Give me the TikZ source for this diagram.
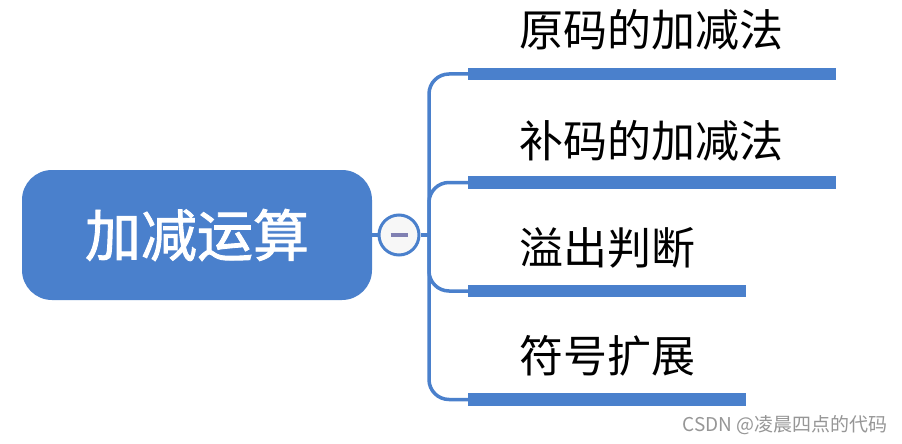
\documentclass[tikz,border=0pt]{standalone}
\usepackage{fontspec}
\newfontfamily\cjk{Noto Sans CJK SC}
\newfontfamily\cjkfb[FakeBold=1.6]{Noto Sans CJK SC}
\definecolor{mblue}{RGB}{74,128,204}
\definecolor{minusc}{RGB}{128,128,178}
\definecolor{wmark}{RGB}{150,150,150}
\tikzset{
  rootbox/.style={fill=mblue, rounded corners=30pt, minimum width=350pt, minimum height=130pt, inner sep=0pt, text=white, font={\cjkfb\fontsize{56}{60}\selectfont}},
  togglec/.style={circle, draw=mblue, line width=3pt, fill=gray!6, minimum size=40pt, inner sep=0pt},
  link/.style={draw=mblue, line width=3.5pt},
  branchlink/.style={link, rounded corners=20pt},
  barbox/.style={fill=mblue, minimum height=12.5pt, inner sep=0pt, anchor=west},
  lbl/.style={anchor=base west, inner sep=0pt, text=black, font={\cjk\fontsize{44}{48}\selectfont}},
  wm/.style={anchor=base east, inner sep=0pt, text=wmark, font={\cjk\fontsize{19}{22}\selectfont}}
}
\begin{document}
\begin{tikzpicture}[x=1pt,y=-1pt]
\useasboundingbox (0,0) rectangle (902,444);
\fill[white] (0,0) rectangle (902,444);
\node[rootbox] (root) at (197,235) {加减运算};
\node[togglec] (tog) at (399,235) {};
\draw[draw=minusc, line width=3.5pt] ([xshift=-8.5pt]tog.center) -- ([xshift=8.5pt]tog.center);
\coordinate (trunk) at (429,235);
\draw[link] (root.east) -- (tog.west);
\draw[link] (tog.east) -- (trunk);
\coordinate (b1) at (468,74);
\coordinate (b2) at (468,182.5);
\coordinate (b3) at (468,291);
\coordinate (b4) at (468,399.5);
\foreach \i in {1,2,3,4} { \draw[branchlink] (trunk) |- (b\i); }
\node[barbox, minimum width=368pt] (bar1) at (b1) {};
\node[barbox, minimum width=368pt] (bar2) at (b2) {};
\node[barbox, minimum width=278pt] (bar3) at (b3) {};
\node[barbox, minimum width=278pt] (bar4) at (b4) {};
\node[lbl] (t1) at (519,47) {原码的加减法};
\node[lbl] (t2) at (519,157) {补码的加减法};
\node[lbl] (t3) at (519,264) {溢出判断};
\node[lbl] (t4) at (519,372) {符号扩展};
\node[wm] (wmk) at (888,431) {CSDN @凌晨四点的代码};
\end{tikzpicture}
\end{document}
